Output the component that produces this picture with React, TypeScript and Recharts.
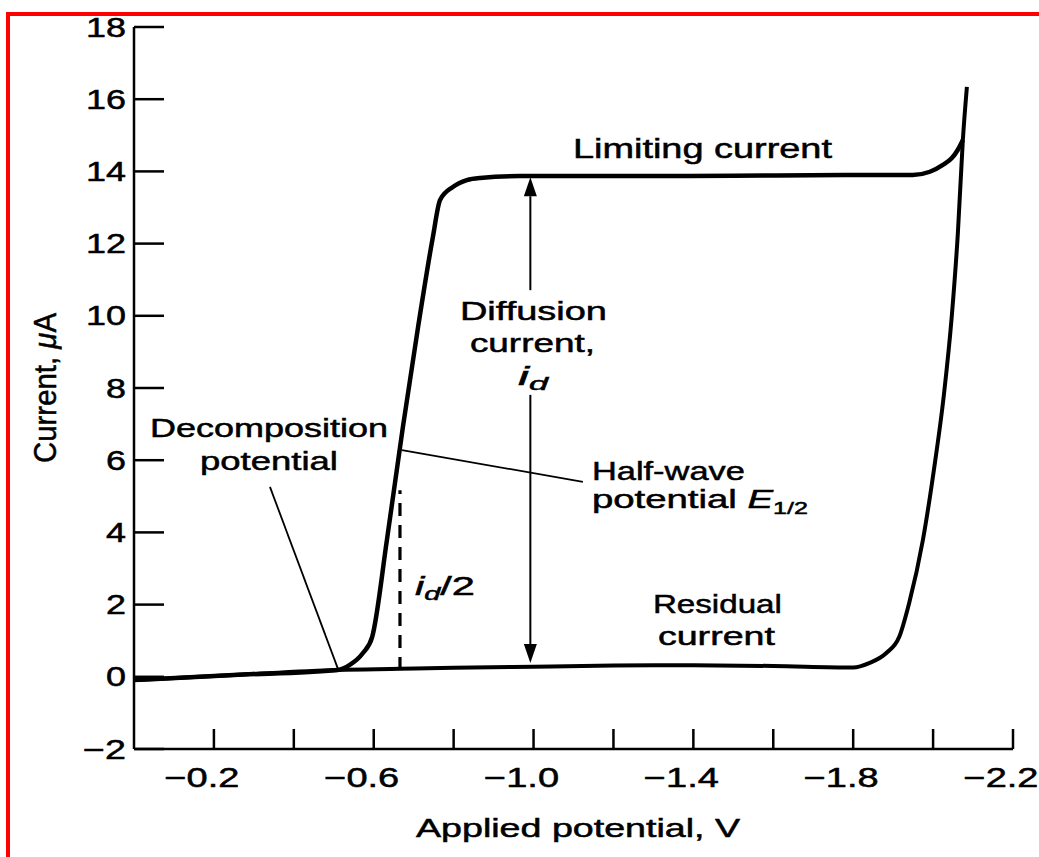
import React from "react";
import { LineChart, Line, XAxis, YAxis, ReferenceLine, ReferenceDot } from "recharts";

const FONT = "'Liberation Sans', Arial, Helvetica, sans-serif";

// Polarographic wave: applied potential (V) vs current (µA)
const waveE = [0, -0.25, -0.51, -0.54, -0.573, -0.596, -0.633, -0.673, -0.711, -0.748, -0.766, -0.798, -0.833, -0.866, -0.966, -1.2, -1.5, -1.8, -1.949, -1.992, -2.0245, -2.047, -2.062, -2.0745];
const waveI = [-0.09, 0.05, 0.19, 0.33, 0.66, 1.1, 3.79, 6.92, 9.69, 12.18, 13.21, 13.57, 13.76, 13.82, 13.87, 13.87, 13.88, 13.9, 13.9, 13.99, 14.18, 14.37, 14.6, 14.87];

// Residual current curve
const residualE = [0, -0.25, -0.51, -0.666, -0.8, -1.0, -1.2, -1.4, -1.6, -1.8, -1.84, -1.883, -1.915, -1.94, -1.9745, -2.002, -2.027, -2.047, -2.062, -2.0745, -2.0846];
const residualI = [-0.09, 0.05, 0.19, 0.22, 0.25, 0.28, 0.31, 0.32, 0.3, 0.26, 0.38, 0.66, 1.1, 2.04, 3.79, 5.73, 7.81, 10.02, 12.29, 14.87, 16.34];

const xTicks = [-0.2, -0.4, -0.6, -0.8, -1.0, -1.2, -1.4, -1.6, -1.8, -2.0, -2.2];
const xTickLabels = [-0.2, -0.6, -1.0, -1.4, -1.8, -2.2];
const yTicks = [-2, 0, 2, 4, 6, 8, 10, 12, 14, 16, 18];

const wave = waveE.map((e, k) => ({ e, i: waveI[k] }));
const residual = residualE.map((e, k) => ({ e, i: residualI[k] }));

// annotation anchors (potential, current)
const halfWaveE = -0.6657;
const diffusionE = -0.992;

const textStyle = { fontFamily: FONT, fill: "#000", stroke: "#000", strokeWidth: 0.5 } as const;

const YTick = (props: any) => {
  const { x, y, payload } = props;
  const v = payload.value as number;
  const s = v < 0 ? `\u2212${Math.abs(v)}` : `${v}`;
  const w = v < 0 ? 43 : s.length * 20;
  return (
    <text x={x} y={y} dy={9.5} textAnchor="end" fontSize={27} textLength={w} lengthAdjust="spacingAndGlyphs" {...textStyle}>
      {s}
    </text>
  );
};

const XTick = (props: any) => {
  const { x, y, payload } = props;
  const v = payload.value as number;
  if (!xTickLabels.some((l) => Math.abs(l - v) < 1e-6)) return <g />;
  const s = `\u2212${Math.abs(v).toFixed(1)}`;
  return (
    <text x={x - 12} y={y} textAnchor="middle" fontSize={27} textLength={75} lengthAdjust="spacingAndGlyphs" {...textStyle}>
      {s}
    </text>
  );
};

const YTitle = (props: any) => {
  const vb = props.viewBox || { x: 0, y: 27, width: 134, height: 722 };
  const cx = vb.x + 56;
  const cy = vb.y + vb.height / 2;
  return (
    <text transform={`translate(${cx},${cy}) rotate(-90)`} textAnchor="middle" fontSize={32} textLength={150} lengthAdjust="spacingAndGlyphs" {...textStyle}>
      Current, <tspan fontStyle="italic">μ</tspan>A
    </text>
  );
};

const XTitle = (props: any) => {
  const vb = props.viewBox || { x: 134, y: 749, width: 879, height: 108 };
  return (
    <text x={vb.x + 444} y={vb.y + 88} textAnchor="middle" fontSize={26} textLength={324} lengthAdjust="spacingAndGlyphs" {...textStyle}>
      Applied potential, V
    </text>
  );
};

const ArrowLine = (props: any) => {
  const { x1, y1, x2, y2 } = props;
  const dx = x2 - x1;
  const dy = y2 - y1;
  const len = Math.hypot(dx, dy) || 1;
  const ux = dx / len;
  const uy = dy / len;
  const L = 19;
  const W = 6.5;
  const bx = x2 - ux * L;
  const by = y2 - uy * L;
  const pts = `${x2},${y2} ${bx - uy * W},${by + ux * W} ${bx + uy * W},${by - ux * W}`;
  return (
    <g>
      <line x1={x1} y1={y1} x2={bx} y2={by} stroke="#000" strokeWidth={2} />
      <polygon points={pts} fill="#000" />
    </g>
  );
};

type Ann = { e: number; i: number; w: number; size?: number; content: React.ReactNode };

const annotations: Ann[] = [
  { e: -1.0986, i: 14.37, w: 259, size: 27, content: "Limiting current" },
  { e: -0.8158, i: 9.88, w: 147, content: "Diffusion" },
  { e: -0.8408, i: 9.0, w: 125, content: "current," },
  {
    e: -0.961, i: 8.08, w: 30,
    content: (
      <>
        <tspan fontStyle="italic">i</tspan>
        <tspan fontStyle="italic" fontSize={18} dy={5}>d</tspan>
      </>
    ),
  },
  { e: -1.1461, i: 5.45, w: 153, content: "Half-wave" },
  {
    e: -1.1461, i: 4.68, w: 216,
    content: (
      <>
        potential <tspan fontStyle="italic">E</tspan>
        <tspan fontSize={17} dy={6}>1/2</tspan>
      </>
    ),
  },
  { e: -0.04, i: 6.64, w: 238, content: "Decomposition" },
  { e: -0.1652, i: 5.73, w: 138, content: "potential" },
  { e: -1.2988, i: 1.77, w: 129, content: "Residual" },
  { e: -1.3113, i: 0.88, w: 117, content: "current" },
  {
    e: -0.7032, i: 2.27, w: 60,
    content: (
      <>
        <tspan fontStyle="italic">i</tspan>
        <tspan fontStyle="italic" fontSize={18} dy={5}>d</tspan>
        <tspan dy={-5}>/2</tspan>
      </>
    ),
  },
];

const makeTextShape = (a: Ann) => (p: any) => (
  <text x={p.cx} y={p.cy} textAnchor="start" fontSize={a.size || 26} textLength={a.w} lengthAdjust="spacingAndGlyphs" {...textStyle}>
    {a.content}
  </text>
);

export default function App() {
  return (
    <div style={{ position: "absolute", left: 0, top: 0, width: 1039, height: 857, background: "#fff", overflow: "hidden" }}>
      <LineChart width={1039} height={857} margin={{ top: 27, right: 26, bottom: 0, left: 0 }}>
        <XAxis
          type="number"
          dataKey="e"
          domain={[-2.2, 0]}
          reversed
          ticks={xTicks}
          interval={0}
          height={108}
          tickSize={-20}
          tickMargin={58}
          axisLine={{ stroke: "#000", strokeWidth: 2.5 }}
          tickLine={{ stroke: "#000", strokeWidth: 2.5 }}
          tick={<XTick />}
          label={<XTitle />}
        />
        <YAxis
          type="number"
          dataKey="i"
          domain={[-2, 18]}
          ticks={yTicks}
          interval={0}
          width={134}
          tickSize={-30}
          tickMargin={38}
          axisLine={{ stroke: "#000", strokeWidth: 2.5 }}
          tickLine={{ stroke: "#000", strokeWidth: 2.5 }}
          tick={<YTick />}
          label={<YTitle />}
        />
        <ReferenceLine segment={[{ x: -0.5105, y: 0.22 }, { x: -0.3403, y: 5.26 }]} stroke="#000" strokeWidth={1.8} />
        <ReferenceLine segment={[{ x: -0.6707, y: 6.28 }, { x: -1.1236, y: 5.4 }]} stroke="#000" strokeWidth={1.8} />
        <ReferenceLine segment={[{ x: halfWaveE, y: 0.19 }, { x: halfWaveE, y: 5.17 }]} stroke="#000" strokeWidth={3.2} strokeDasharray="13 9" />
        <ReferenceLine segment={[{ x: diffusionE, y: 10.71 }, { x: diffusionE, y: 13.84 }]} stroke="#000" shape={ArrowLine} />
        <ReferenceLine segment={[{ x: diffusionE, y: 7.81 }, { x: diffusionE, y: 0.38 }]} stroke="#000" shape={ArrowLine} />
        <Line data={residual} dataKey="i" type="monotone" stroke="#000" strokeWidth={4} dot={false} activeDot={false} isAnimationActive={false} />
        <Line data={wave} dataKey="i" type="monotone" stroke="#000" strokeWidth={4.5} dot={false} activeDot={false} isAnimationActive={false} />
        {annotations.map((a, k) => (
          <ReferenceDot key={k} x={a.e} y={a.i} r={1} fill="none" stroke="none" ifOverflow="visible" shape={makeTextShape(a)} />
        ))}
      </LineChart>
      <div style={{ position: "absolute", left: 6, top: 12, width: 1033, height: 4, background: "#ff0000" }} />
      <div style={{ position: "absolute", left: 6, top: 12, width: 4, height: 845, background: "#ff0000" }} />
    </div>
  );
}
